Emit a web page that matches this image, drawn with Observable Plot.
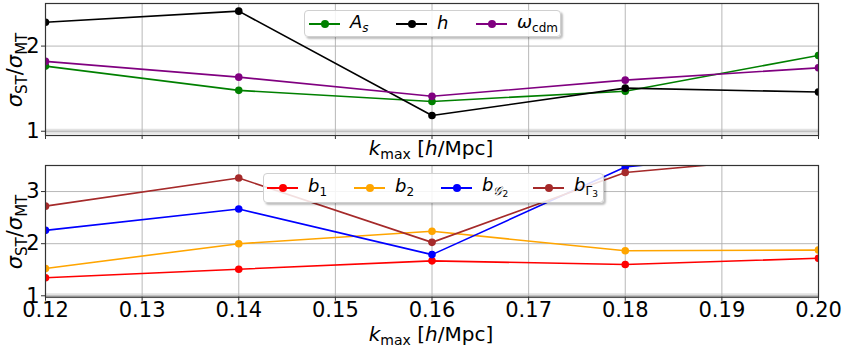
<!DOCTYPE html>
<html>
<head>
<meta charset="utf-8">
<script src="https://cdn.jsdelivr.net/npm/d3@7"></script>
<script src="https://cdn.jsdelivr.net/npm/@observablehq/plot@0.6"></script>
<style>
  body { margin: 0; background: #fff; font-family: "DejaVu Sans", sans-serif; }
  #wrap { position: relative; width: 843px; height: 351px; overflow: hidden; }
  #top, #bot { position: absolute; left: 0; }
  #top { top: 0; }
  #bot { top: 160px; }
  .legend { position: absolute; background: rgba(255,255,255,0.85); border: 1px solid #d0d0d0;
            border-radius: 4px; box-shadow: 2px 2px 2px rgba(0,0,0,0.25); }
  .item { position: absolute; top: 0; height: 100%; }
  .sw { position: absolute; width: 31px; height: 2px; top: 50%; margin-top: -1px; }
  .sw::after { content: ""; position: absolute; left: 12px; top: -3px; width: 8px; height: 8px; border-radius: 50%; background: inherit; }
  .lab { position: absolute; left: 41px; top: 50%; transform: translateY(-55%); font-size: 18px; white-space: nowrap; }
  .lab sub { font-size: 12px; font-style: normal; vertical-align: -4px; }
  .lab sub sub { font-size: 9px; vertical-align: -2px; }
  svg g[aria-label="x-axis tick label"] text, svg g[aria-label="y-axis tick label"] text { font-size: 21px; }
</style>
</head>
<body>
<div id="wrap">
  <div id="top"></div>
  <div id="bot"></div>
</div>
<script>
const kmax = [0.12, 0.14, 0.16, 0.18, 0.20];
const As   = [1.765, 1.48, 1.35, 1.47, 1.89];
const hh   = [2.28, 2.41, 1.185, 1.506, 1.46];
const wcdm = [1.82, 1.635, 1.41, 1.60, 1.745];
const b1   = [1.346, 1.51, 1.67, 1.60, 1.72];
const b2   = [1.525, 2.0, 2.237, 1.865, 1.877];
const bG2  = [2.256, 2.665, 1.79, 3.47, 3.85];
const bG3  = [2.72, 3.26, 2.025, 3.365, 3.70];
const xTicks = [0.12, 0.13, 0.14, 0.15, 0.16, 0.17, 0.18, 0.19, 0.20];

const topSeries = [
  {name: "As", values: As, color: "green"},
  {name: "h", values: hh, color: "black"},
  {name: "wcdm", values: wcdm, color: "purple"}
];
const botSeries = [
  {name: "b1", values: b1, color: "red"},
  {name: "b2", values: b2, color: "orange"},
  {name: "bG2", values: bG2, color: "blue"},
  {name: "bG3", values: bG3, color: "brown"}
];

function seriesMarks(series) {
  const out = [];
  for (const s of series) {
    const d = kmax.map((k, i) => ({k, v: s.values[i]}));
    out.push(Plot.line(d, {x: "k", y: "v", stroke: s.color, strokeWidth: 1.6, clip: true}));
    out.push(Plot.dot(d, {x: "k", y: "v", fill: s.color, r: 3.8, clip: true}));
  }
  return out;
}

function makePlot(series, opts) {
  return Plot.plot({
    width: 843,
    height: opts.height,
    marginTop: opts.mt,
    marginBottom: opts.mb,
    marginLeft: 45,
    marginRight: 25,
    style: {fontFamily: "DejaVu Sans, sans-serif", fontSize: "21px", background: "white", color: "black", overflow: "visible"},
    x: {domain: [0.12, 0.20]},
    y: {domain: opts.ydom},
    marks: [
      Plot.ruleY([1], {stroke: "#e2e2e2", strokeWidth: 5}),
      Plot.gridX(xTicks, {stroke: "#b0b0b0", strokeOpacity: 1, strokeWidth: 0.9}),
      Plot.gridY(opts.yticks, {stroke: "#b0b0b0", strokeOpacity: 1, strokeWidth: 0.9}),
      ...seriesMarks(series),
      Plot.frame({stroke: "#333", strokeWidth: 1.2}),
      Plot.axisX(xTicks, {tickFormat: opts.xlabels ? (d => d.toFixed(2)) : () => "", tickSize: 4, tickPadding: 1, fontSize: 21, label: null, stroke: "#333"}),
      Plot.axisY(opts.yticks, {tickFormat: d => String(d), tickSize: 4, tickPadding: 2, fontSize: 21, label: null, stroke: "#333"})
    ]
  });
}

const topPlot = makePlot(topSeries, {height: 160, mt: 3, mb: 25, ydom: [0.95, 2.5], yticks: [1, 2], xlabels: false});
const botPlot = makePlot(botSeries, {height: 191, mt: 5, mb: 54.3, ydom: [0.973, 3.5], yticks: [1, 2, 3], xlabels: true});
document.getElementById("top").appendChild(topPlot);
document.getElementById("bot").appendChild(botPlot);

function addLabels(svg, ycenter, xlabelY) {
  const s = d3.select(svg);
  const t = s.append("text")
    .attr("transform", `translate(22,${ycenter}) rotate(-90)`)
    .attr("text-anchor", "middle")
    .style("font-size", "21px").style("font-family", "DejaVu Sans");
  t.append("tspan").style("font-style", "italic").text("σ");
  t.append("tspan").attr("dy", 5).style("font-size", "15px").text("ST");
  t.append("tspan").attr("dy", -5).text("/");
  t.append("tspan").style("font-style", "italic").text("σ");
  t.append("tspan").attr("dy", 5).style("font-size", "15px").text("MT");
  const x = s.append("text")
    .attr("x", 431).attr("y", xlabelY)
    .attr("text-anchor", "middle")
    .style("font-size", "20px").style("font-family", "DejaVu Sans");
  x.append("tspan").style("font-style", "italic").text("k");
  x.append("tspan").attr("dy", 4).style("font-size", "14px").text("max");
  x.append("tspan").attr("dy", -4).text(" [");
  x.append("tspan").style("font-style", "italic").text("h");
  x.append("tspan").text("/Mpc]");
}
addLabels(topPlot, 70, 155);
addLabels(botPlot, 72, 181);

function legend(parent, left, top, width, height, items) {
  const box = document.createElement("div");
  box.className = "legend";
  Object.assign(box.style, {left: left + "px", top: top + "px", width: width + "px", height: height + "px"});
  for (const it of items) {
    const d = document.createElement("div");
    d.className = "item";
    d.style.left = it.x + "px";
    d.innerHTML = `<div class="sw" style="background:${it.color}"></div><div class="lab">${it.html}</div>`;
    box.appendChild(d);
  }
  parent.appendChild(box);
}
const wrap = document.getElementById("wrap");
legend(wrap, 304, 10, 255, 25, [
  {x: 4, color: "green", html: "<i>A</i><sub><i>s</i></sub>"},
  {x: 91, color: "black", html: "<i>h</i>"},
  {x: 171, color: "purple", html: "<i>ω</i><sub>cdm</sub>"}
]);
legend(wrap, 263, 173, 339, 28, [
  {x: 3, color: "red", html: "<i>b</i><sub>1</sub>"},
  {x: 90, color: "orange", html: "<i>b</i><sub>2</sub>"},
  {x: 177, color: "blue", html: "<i>b</i><sub><i>𝒢</i><sub>2</sub></sub>"},
  {x: 269, color: "brown", html: "<i>b</i><sub>Γ<sub>3</sub></sub>"}
]);
</script>
</body>
</html>
